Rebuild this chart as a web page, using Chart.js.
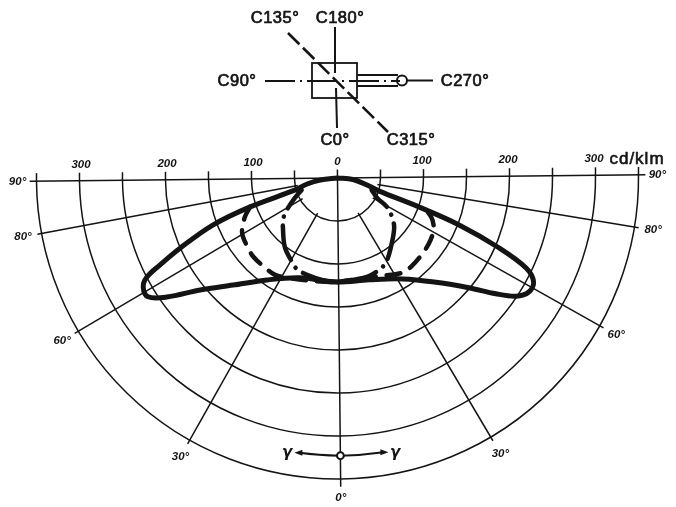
<!DOCTYPE html>
<html>
<head>
<meta charset="utf-8">
<title>Luminous intensity distribution</title>
<script src="https://cdn.jsdelivr.net/npm/chart.js@4/dist/chart.umd.min.js"></script>
<style>
    html, body { margin: 0; padding: 0; background: #fff; }
    canvas { display: block; }
</style>
</head>
<body>
<canvas id="polarChart" width="676" height="507"></canvas>
<script>
// Grid values
const ringValues = [50, 100, 150, 200, 250, 300, 350];
const scaleTicks = [300, 200, 100, 0, 100, 200, 300];
const scaleTickSides = [-1, -1, -1, 0, 1, 1, 1];
const spokeAngles = [-80, -60, -30, 30, 60, 80];
const angleLabels = [-90, -80, -60, -30, 0, 30, 60, 80, 90];

// Solid curve (gamma signed, left side negative)
const solidGamma = [-90, -84.1, -79.5, -74.8, -72.3, -69.9, -66.6, -64.5, -63.1, -61.3, -58.5, -55.7, -51.4, -44.9, -35.2, -21.2, -1.4,
    16.6, 32.4, 42.8, 49.5, 53.2, 55.9, 58.6, 61.5, 63.9, 66, 68.3, 69.8, 72, 75.2, 83.9, 90];
const solidCd = [0, 20, 36, 51, 107, 155, 200, 230, 250, 259, 260, 242, 206, 174, 144, 124, 121,
    124, 140, 167, 199, 228, 249, 259, 258, 243, 205, 151, 101, 51, 38, 18, 0];

// C90/C270 dash-dot curve, one half per side
const innerLeftGamma = [-71.9, -65.4, -58.2, -53.6, -48.1, -37.9, -29, -24.6, -18.1, -8.7, 0];
const innerLeftCd = [44, 55, 70, 79, 86, 101, 111, 116, 118, 120, 121];
const innerRightGamma = [70.2, 62.5, 59, 53.8, 47.9, 36.8, 29.4, 24.4, 16, 0];
const innerRightCd = [42, 52, 67, 78, 88, 102, 113, 117, 120, 121];

// C135/C315 dashed curve, one half per side
const outerLeftGamma = [-72.3, -67.7, -60.6, -52.6, -47.5, -39.5, -33.4, -27.4, -10, 0];
const outerLeftCd = [107, 117, 128, 132, 134, 134, 134, 130, 122, 121];
const outerRightGamma = [71.5, 66.8, 62, 55.9, 48.9, 39, 33.2, 19.1, 0];
const outerRightCd = [102, 118, 126, 130, 132, 134, 133, 122, 121];

const INK = '#141414';
const TILT = 0.6; // the scanned drawing sits slightly rotated

// gamma from straight down, cd/klm as radius
function polar(gamma, cd) {
    const a = (gamma + TILT) * Math.PI / 180;
    return { x: cd * Math.sin(a), y: -cd * Math.cos(a) };
}

function toPoints(gammas, values) {
    return gammas.map((g, i) => polar(g, values[i]));
}

function curve(gammas, values, width, dash, offset) {
    return {
        data: toPoints(gammas, values),
        showLine: true,
        borderColor: INK,
        borderWidth: width,
        borderDash: dash || [],
        borderDashOffset: offset || 0,
        borderCapStyle: dash ? 'round' : 'butt',
        borderJoinStyle: 'round',
        tension: 0.35,
        pointRadius: 0
    };
}

function text(ctx, str, x, y, font, weight, spacing) {
    ctx.font = font;
    ctx.letterSpacing = spacing || '0px';
    ctx.textAlign = 'center';
    ctx.textBaseline = 'middle';
    ctx.fillText(str, x, y);
    if (weight) {
        ctx.lineWidth = weight;
        ctx.strokeText(str, x, y);
    }
}

function line(ctx, x1, y1, x2, y2) {
    ctx.beginPath();
    ctx.moveTo(x1, y1);
    ctx.lineTo(x2, y2);
    ctx.stroke();
}

// ----------------- Polar grid, under the curves -----------------
const gridPlugin = {
    id: 'polarGrid',
    beforeDatasetsDraw(chart) {
        const { ctx, scales: { x, y } } = chart;
        const px = p => [x.getPixelForValue(p.x), y.getPixelForValue(p.y)];
        const [cx, cy] = px(polar(0, 0));
        const tilt = TILT * Math.PI / 180;

        ctx.save();
        ctx.strokeStyle = INK;
        ctx.fillStyle = INK;
        ctx.lineWidth = 1.5;

        ringValues.forEach(v => {
            const r = x.getPixelForValue(v) - x.getPixelForValue(0);
            ctx.beginPath();
            ctx.arc(cx, cy, r, -tilt, Math.PI - tilt);
            ctx.stroke();
            // small ticks above the 90 degree line
            [-1, 1].forEach(side => {
                const [tx, ty] = px(polar(side * 90, v));
                line(ctx, tx, ty, tx, ty - 8);
            });
        });

        // 90 degree line and 0 degree spoke
        line(ctx, ...px(polar(-90, 358)), ...px(polar(90, 358)));
        line(ctx, ...px(polar(0, -10)), ...px(polar(0, 359)));

        spokeAngles.forEach(g => {
            line(ctx, ...px(polar(g, 47)), ...px(polar(g, 355)));
        });
        ctx.restore();
    },

    // ----------------- Labels and plan sketch -----------------
    afterDatasetsDraw(chart) {
        const { ctx, scales: { x, y } } = chart;
        const px = p => [x.getPixelForValue(p.x), y.getPixelForValue(p.y)];
        const small = 'italic bold 11.5px "Liberation Sans"';
        const big = '16.5px "Liberation Sans"';

        ctx.save();
        ctx.strokeStyle = INK;
        ctx.fillStyle = INK;

        scaleTicks.forEach((v, i) => {
            const [tx, ty] = px(polar(scaleTickSides[i] * 90, v));
            text(ctx, String(v), tx + scaleTickSides[i] * -1.5, ty - 16, small);
        });
        angleLabels.forEach(g => {
            const [tx, ty] = px(polar(g, 372));
            text(ctx, Math.abs(g) + '°', tx, ty, small);
        });
        text(ctx, 'cd/klm', 637, 159, '17px "Liberation Sans"', 0.6, '1px');

        text(ctx, 'C135°', 275, 18, big, 0.7, '0.5px');
        text(ctx, 'C180°', 340, 18, big, 0.7, '0.5px');
        text(ctx, 'C90°', 237, 81, big, 0.7, '0.5px');
        text(ctx, 'C270°', 465, 81, big, 0.7, '0.5px');
        text(ctx, 'C0°', 335, 140, big, 0.7, '0.5px');
        text(ctx, 'C315°', 411, 140, big, 0.7, '0.5px');

        // plan sketch of the luminaire
        ctx.lineWidth = 1.8;
        ctx.strokeRect(312, 63, 45, 35);
        ctx.lineWidth = 2;
        line(ctx, 335, 27, 335, 73);
        line(ctx, 336, 88, 337, 128);
        line(ctx, 357, 75, 398, 75);
        line(ctx, 357, 86, 398, 86);
        ctx.beginPath();
        ctx.arc(402, 80.5, 5, 0, Math.PI * 2);
        ctx.stroke();
        line(ctx, 407, 80.5, 433, 80.5);
        ctx.setLineDash([30, 5, 2, 5]);
        line(ctx, 265, 81, 400, 81);
        ctx.lineWidth = 2.6;
        ctx.setLineDash([16, 5]);
        line(ctx, 288, 33, 388, 132);
        ctx.setLineDash([]);

        // gamma arrows at the 0 degree spoke
        const [ax, ay] = px(polar(0, 323));
        ctx.lineWidth = 1.8;
        ctx.beginPath();
        ctx.moveTo(ax, ay);
        ctx.quadraticCurveTo(ax - 22, ay - 0.5, ax - 41, ay - 3);
        ctx.moveTo(ax, ay);
        ctx.quadraticCurveTo(ax + 22, ay - 0.5, ax + 43, ay - 3.5);
        ctx.stroke();
        [[ax - 46, ay - 3, 1], [ax + 48, ay - 3.5, -1]].forEach(([hx, hy, d]) => {
            ctx.beginPath();
            ctx.moveTo(hx, hy);
            ctx.lineTo(hx + d * 8, hy - 3);
            ctx.lineTo(hx + d * 8, hy + 3);
            ctx.closePath();
            ctx.fill();
        });
        ctx.beginPath();
        ctx.arc(ax, ay, 3.4, 0, Math.PI * 2);
        ctx.fillStyle = '#fff';
        ctx.fill();
        ctx.lineWidth = 2;
        ctx.stroke();
        ctx.fillStyle = INK;
        text(ctx, 'γ', 287, 453, 'italic bold 15px "DejaVu Sans"');
        text(ctx, 'γ', 395, 453, 'italic bold 15px "DejaVu Sans"');
        ctx.restore();
    }
};

new Chart(document.getElementById('polarChart').getContext('2d'), {
    type: 'scatter',
    data: {
        datasets: [
            curve(innerLeftGamma, innerLeftCd, 4.5, [36, 9, 0.1, 9], 13),
            curve(innerRightGamma, innerRightCd, 4.5, [36, 9, 0.1, 9], 13),
            curve(outerLeftGamma, outerLeftCd, 4.5, [14, 11], 0),
            curve(outerRightGamma, outerRightCd, 4.5, [14, 11], 14.5),
            curve(solidGamma, solidCd, 5)
        ]
    },
    plugins: [gridPlugin],
    options: {
        responsive: false,
        animation: false,
        layout: { padding: 0 },
        plugins: { legend: { display: false }, tooltip: { enabled: false } },
        scales: {
            x: { type: 'linear', display: false, min: -392.4, max: 393.6 },
            y: { type: 'linear', display: false, min: -382.6, max: 207 }
        }
    }
});
</script>
</body>
</html>
